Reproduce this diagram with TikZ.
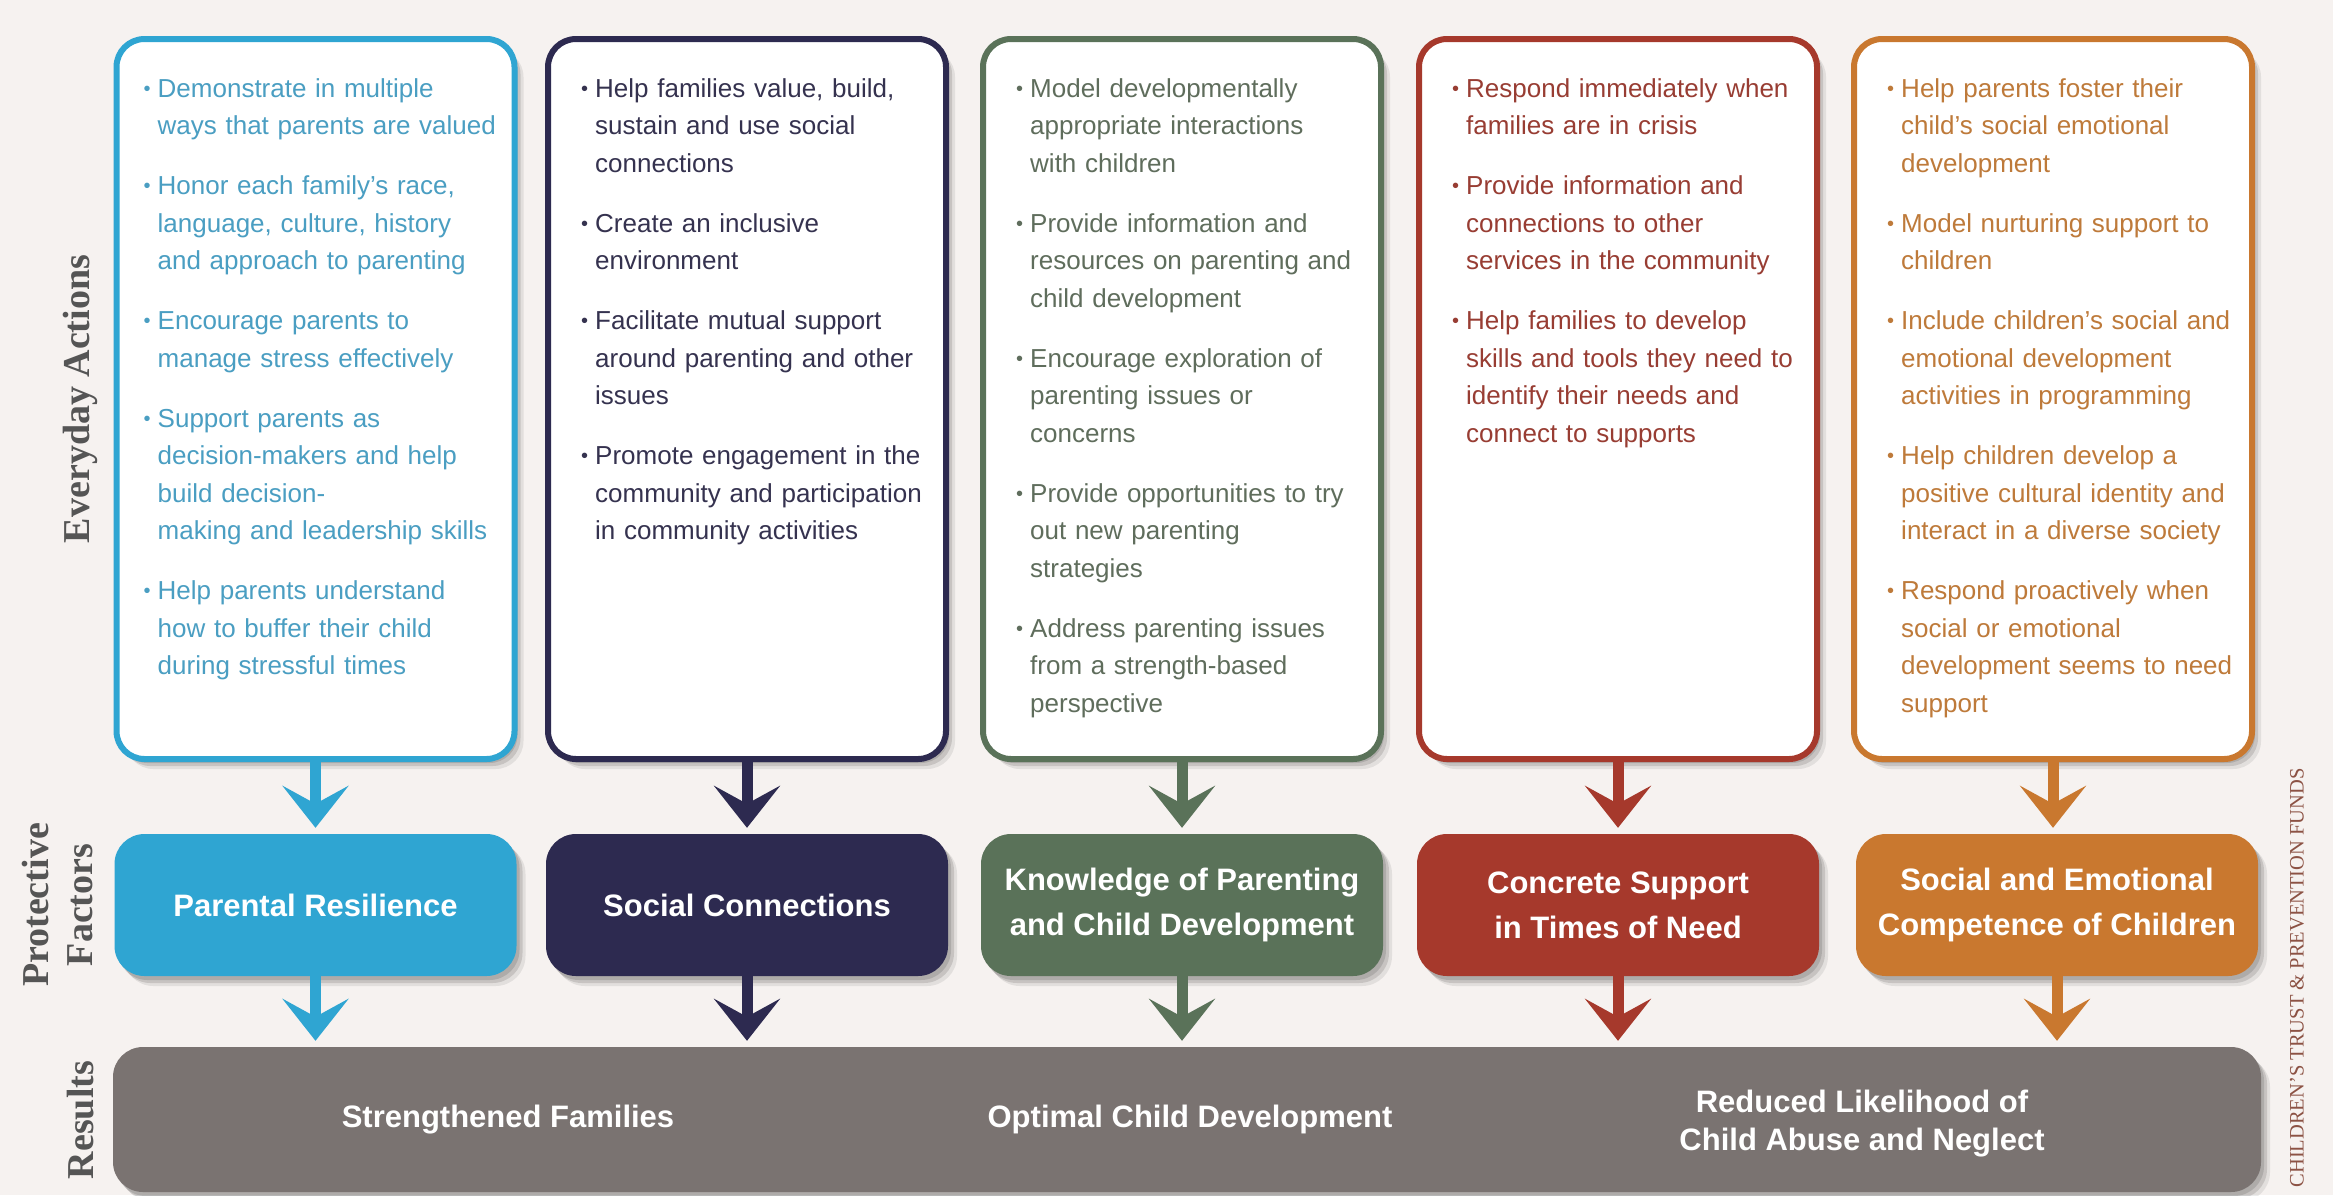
\documentclass[tikz,border=0pt]{standalone}
\usepackage{fontspec}
\setmainfont{Liberation Sans}
\newfontfamily\labelfont{Liberation Serif}
\usetikzlibrary{arrows.meta,shadows,calc}

\definecolor{bg}{HTML}{F6F2F0}
\definecolor{cA}{HTML}{2FA5D2}
\definecolor{tA}{HTML}{4A9EC2}
\definecolor{cB}{HTML}{2D2A50}
\definecolor{tB}{HTML}{35324F}
\definecolor{cC}{HTML}{5A7259}
\definecolor{tC}{HTML}{5F6D5C}
\definecolor{cD}{HTML}{A6392C}
\definecolor{tD}{HTML}{983D33}
\definecolor{cE}{HTML}{C9782F}
\definecolor{tE}{HTML}{BE7A3A}
\definecolor{resgray}{HTML}{7A7371}
\definecolor{labgray}{HTML}{555555}
\definecolor{credit}{HTML}{8C5244}

\newcommand\bsym{\raisebox{2pt}{\fontsize{20}{20}\selectfont\textbullet}}
\newcommand\bitem[1]{\noindent\llap{\bsym\hspace{7pt}}#1\par\vspace{22.5pt}}

\begin{document}
\begin{tikzpicture}[x=1pt,y=-1pt,
  shad/.style={
    drop shadow={shadow xshift=3pt,shadow yshift=-4pt,opacity=0.12,fill=black},
    drop shadow={shadow xshift=6pt,shadow yshift=-7pt,opacity=0.12,fill=black},
    drop shadow={shadow xshift=9pt,shadow yshift=-10pt,opacity=0.08,fill=black}},
  actbox/.style={draw=#1, line width=6pt, rounded corners=28pt, fill=white,
    minimum width=398pt, minimum height=720pt, shad},
  acttext/.style={text width=372pt, align=left, inner sep=0pt,
    font=\fontsize{26}{37.5}\selectfont},
  pfbox/.style={fill=#1, rounded corners=30pt, minimum width=402pt,
    minimum height=142pt, text=white, align=center, shad,
    font=\bfseries\fontsize{31}{45}\selectfont},
  resbox/.style={fill=resgray, rounded corners=30pt, minimum width=2148pt,
    minimum height=145pt, shad},
  restext/.style={text=white, align=center, inner sep=0pt,
    font=\bfseries\fontsize{31}{38}\selectfont},
  arr/.style={draw=#1, line width=11pt,
    -{Stealth[length=42pt,width=66pt,inset=18pt]}, shorten >=6pt},
  lab/.style={text=labgray, inner sep=0pt, align=center,
    font=\labelfont\bfseries\fontsize{38}{44}\selectfont},
  credittext/.style={text=credit, inner sep=0pt,
    font=\labelfont\fontsize{20.5}{20.5}\selectfont}
]
\fill[bg] (0,0) rectangle (2333,1195);
\useasboundingbox (0,0) rectangle (2333,1195);

% ---------- everyday action boxes ----------
\node[actbox=cA] (a1) at (315.5,399) {};
\node[actbox=cB] (a2) at (747,399) {};
\node[actbox=cC] (a3) at (1182,399) {};
\node[actbox=cD] (a4) at (1618,399) {};
\node[actbox=cE] (a5) at (2053,399) {};

\node[acttext, text=tA, anchor=north west] (a1t) at ($(a1.north west)+(44,42)$) {%
\bitem{Demonstrate in multiple\newline ways that parents are valued}
\bitem{Honor each family’s race,\newline language, culture, history\newline and approach to parenting}
\bitem{Encourage parents to\newline manage stress effectively}
\bitem{Support parents as\newline decision-makers and help\newline build decision-\newline making and leadership skills}
\bitem{Help parents understand\newline how to buffer their child\newline during stressful times}};

\node[acttext, text=tB, anchor=north west] (a2t) at ($(a2.north west)+(50,42)$) {%
\bitem{Help families value, build,\newline sustain and use social\newline connections}
\bitem{Create an inclusive\newline environment}
\bitem{Facilitate mutual support\newline around parenting and other\newline issues}
\bitem{Promote engagement in the\newline community and participation\newline in community activities}};

\node[acttext, text=tC, anchor=north west] (a3t) at ($(a3.north west)+(50,42)$) {%
\bitem{Model developmentally\newline appropriate interactions\newline with children}
\bitem{Provide information and\newline resources on parenting and\newline child development}
\bitem{Encourage exploration of\newline parenting issues or\newline concerns}
\bitem{Provide opportunities to try\newline out new parenting\newline strategies}
\bitem{Address parenting issues\newline from a strength-based\newline perspective}};

\node[acttext, text=tD, anchor=north west] (a4t) at ($(a4.north west)+(50,42)$) {%
\bitem{Respond immediately when\newline families are in crisis}
\bitem{Provide information and\newline connections to other\newline services in the community}
\bitem{Help families to develop\newline skills and tools they need to\newline identify their needs and\newline connect to supports}};

\node[acttext, text=tE, anchor=north west] (a5t) at ($(a5.north west)+(50,42)$) {%
\bitem{Help parents foster their\newline child’s social emotional\newline development}
\bitem{Model nurturing support to\newline children}
\bitem{Include children’s social and\newline emotional development\newline activities in programming}
\bitem{Help children develop a\newline positive cultural identity and\newline interact in a diverse society}
\bitem{Respond proactively when\newline social or emotional\newline development seems to need\newline support}};

% ---------- protective factors ----------
\node[pfbox=cA] (p1) at (315.5,905) {Parental Resilience};
\node[pfbox=cB] (p2) at (747,905) {Social Connections};
\node[pfbox=cC] (p3) at (1182,905) {Knowledge of Parenting\\and Child Development};
\node[pfbox=cD] (p4) at (1618,905) {Concrete Support\\in Times of Need};
\node[pfbox=cE] (p5) at (2057,905) {Social and Emotional\\Competence of Children};

% ---------- results ----------
\node[resbox] (res) at (1187,1119.5) {};
\node[restext] (r1) at (508,1119.5) {Strengthened Families};
\node[restext] (r2) at (1190,1119.5) {Optimal Child Development};
\node[restext] (r3) at (1862,1124) {Reduced Likelihood of\\Child Abuse and Neglect};

% ---------- arrows ----------
\foreach \i/\c in {1/cA,2/cB,3/cC,4/cD,5/cE}{
  \draw[arr=\c] (a\i.south) -- (a\i.south |- p\i.north);
  \draw[arr=\c] (p\i.south) -- (p\i.south |- res.north);
}

% ---------- side labels ----------
\node[lab, rotate=90] (lea) at (80,399) {Everyday Actions};
\node[lab, rotate=90] (lpf) at (58,905) {Protective\\Factors};
\node[lab, rotate=90] (lres) at (81,1120) {Results};
\node[credittext, rotate=90, anchor=east] (cred) at (2297,768) {CHILDREN’S TRUST \& PREVENTION FUNDS};
\end{tikzpicture}
\end{document}
